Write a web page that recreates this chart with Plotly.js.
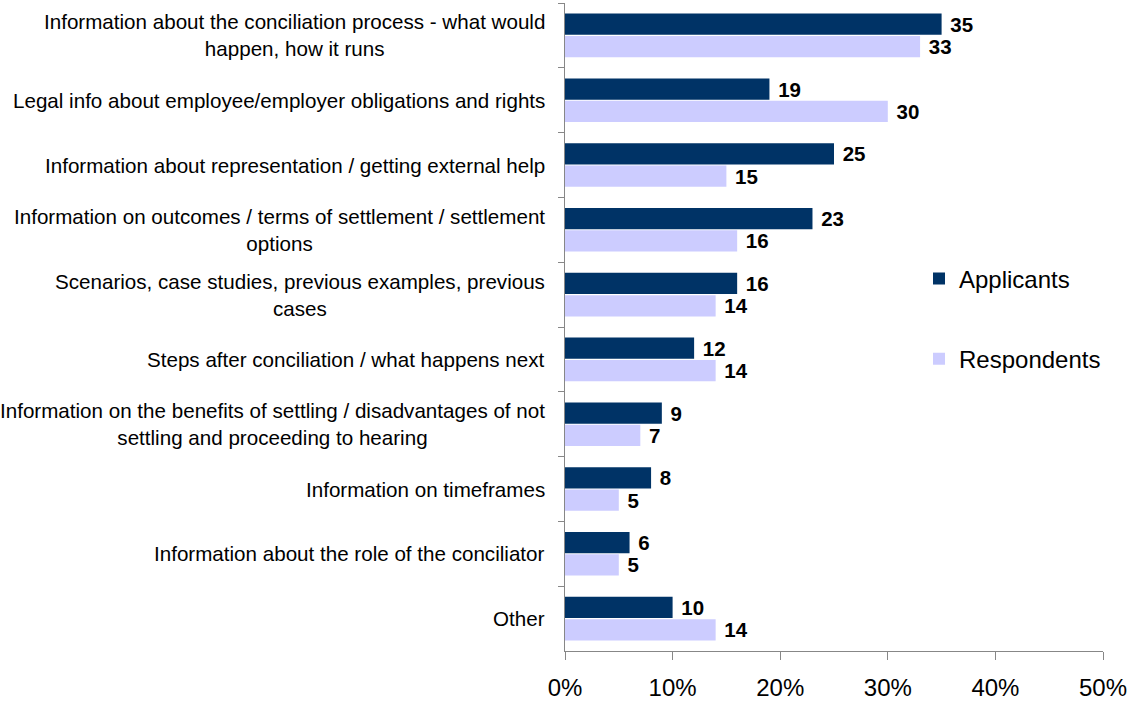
<!DOCTYPE html>
<html>
<head>
<meta charset="utf-8">
<script src="https://cdn.plot.ly/plotly-3.0.1.min.js"></script>
<style>html,body{margin:0;padding:0;background:#fff;}#chart{width:1129px;height:702px;}</style>
</head>
<body>
<div id="chart"></div>
<script>
const categories = [
  "Information about the conciliation process - what would<br>happen, how it runs",
  "Legal info about employee/employer obligations and rights",
  "Information about representation / getting external help",
  "Information on outcomes / terms of settlement / settlement<br>options",
  "Scenarios, case studies, previous examples, previous<br>cases",
  "Steps after conciliation / what happens next",
  "Information on the benefits of settling / disadvantages of not<br>settling and proceeding to hearing",
  "Information on timeframes",
  "Information about the role of the conciliator",
  "Other"
];
const applicants = [35, 19, 25, 23, 16, 12, 9, 8, 6, 10];
const respondents = [33, 30, 15, 16, 14, 14, 7, 5, 5, 14];
const xTicks = [0, 10, 20, 30, 40, 50];

const FONT = '"Liberation Sans", Arial, sans-serif';
const AXIS = '#878787';

function barTrace(name, values, color, group) {
  return {
    type: 'bar', orientation: 'h', name: name,
    y: categories, x: values,
    marker: {color: color},
    text: values.map(v => '\u00a0' + v),
    texttemplate: '%{text}',
    textposition: 'outside',
    constraintext: 'none',
    cliponaxis: false,
    textfont: {family: FONT, size: 20.5, color: '#000', weight: 'bold'},
    legendgroup: group,
    hoverinfo: 'x+y'
  };
}

const data = [
  barTrace('Applicants', applicants, '#003366', 'a'),
  barTrace('Respondents', respondents, '#CCCCFF', 'r')
];

const annotations = categories.map(c => ({
  xref: 'paper', yref: 'y', x: 0, y: c,
  xanchor: 'right', yanchor: 'middle', xshift: -18,
  align: 'center', showarrow: false, text: c,
  font: {family: FONT, size: 20.6, color: '#000'}
}));

const layout = {
  width: 1129, height: 702,
  margin: {l: 565, r: 26, t: 3, b: 51},
  paper_bgcolor: '#fff', plot_bgcolor: '#fff',
  font: {family: FONT, color: '#000'},
  barmode: 'group', bargap: 0.31, bargroupgap: 0.05,
  showlegend: true,
  legend: {
    x: 0.658, xanchor: 'left', y: 0.609, yanchor: 'top',
    font: {family: FONT, size: 24, color: '#000'},
    tracegroupgap: 46, bgcolor: 'rgba(0,0,0,0)'
  },
  xaxis: {
    range: [0, 50], tickvals: xTicks, ticktext: xTicks.map(v => v + '%'),
    showgrid: false, zeroline: false, showline: true, linecolor: AXIS, linewidth: 1,
    ticks: 'outside', ticklen: 8, tickcolor: AXIS,
    tickfont: {family: FONT, size: 24, color: '#000'},
    ticklabelstandoff: 7, fixedrange: true
  },
  yaxis: {
    type: 'category', autorange: 'reversed',
    showticklabels: false, showgrid: false, zeroline: false,
    showline: true, linecolor: AXIS, linewidth: 1,
    ticks: 'outside', tickson: 'boundaries', ticklen: 6, tickcolor: AXIS,
    fixedrange: true
  },
  annotations: annotations
};

Plotly.newPlot('chart', data, layout, {displayModeBar: false, staticPlot: true});
</script>
</body>
</html>
